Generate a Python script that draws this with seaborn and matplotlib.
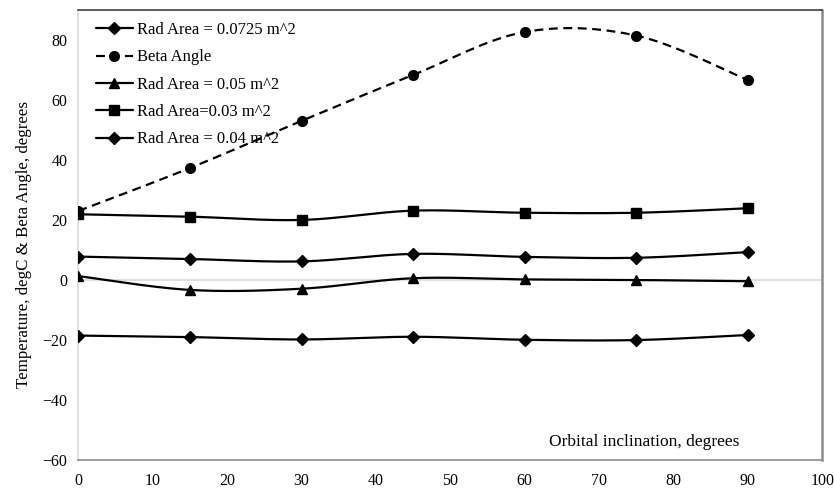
import matplotlib
matplotlib.use("Agg")
import matplotlib.pyplot as plt
from matplotlib.lines import Line2D
import numpy as np
import pandas as pd
import seaborn as sns

# Values
inclination = [0, 15, 30, 45, 60, 75, 90]
beta_angle = [23.0, 37.3, 53.0, 68.3, 82.6, 81.4, 66.6]
rad_0725 = [-18.5, -19.0, -19.8, -18.9, -19.9, -20.0, -18.3]
rad_005 = [1.3, -3.3, -2.9, 0.6, 0.2, 0.0, -0.4]
rad_003 = [21.9, 21.1, 20.0, 23.1, 22.4, 22.4, 23.9]
rad_004 = [7.8, 7.0, 6.2, 8.7, 7.7, 7.4, 9.3]

x_ticks = [0, 10, 20, 30, 40, 50, 60, 70, 80, 90, 100]
y_ticks = [-60, -40, -20, 0, 20, 40, 60, 80]


def smooth(x, y, n=30):
    # Excel-style smoothed line: cubic Bezier with Catmull-Rom control points
    x = np.asarray(x, float)
    y = np.asarray(y, float)
    px = np.concatenate([[x[0]], x, [x[-1]]])
    py = np.concatenate([[y[0]], y, [y[-1]]])
    xs, ys = [], []
    t = np.linspace(0, 1, n)
    for i in range(1, len(px) - 2):
        p0 = np.array([px[i], py[i]])
        p3 = np.array([px[i + 1], py[i + 1]])
        p1 = p0 + (np.array([px[i + 1], py[i + 1]]) - np.array([px[i - 1], py[i - 1]])) / 6
        p2 = p3 - (np.array([px[i + 2], py[i + 2]]) - np.array([px[i], py[i]])) / 6
        b = ((1 - t) ** 3)[:, None] * p0 + (3 * (1 - t) ** 2 * t)[:, None] * p1 \
            + (3 * (1 - t) * t ** 2)[:, None] * p2 + (t ** 3)[:, None] * p3
        xs.extend(b[:, 0])
        ys.extend(b[:, 1])
    return xs, ys


sns.set_theme(style="white")
plt.rcParams["font.family"] = ["Liberation Serif", "DejaVu Serif"]
plt.rcParams["text.color"] = "black"

series = [
    ("Rad Area = 0.0725 m^2", rad_0725, "D", "-", 6),
    ("Beta Angle", beta_angle, "o", "--", 7),
    ("Rad Area = 0.05 m^2", rad_005, "^", "-", 7),
    ("Rad Area=0.03 m^2", rad_003, "s", "-", 7),
    ("Rad Area = 0.04 m^2", rad_004, "D", "-", 6),
]

fig, ax = plt.subplots(figsize=(8.34, 4.88), dpi=100)
fig.subplots_adjust(left=0.094, right=0.986, top=0.98, bottom=0.057)

ax.axhline(0, color="#d9d9d9", lw=1.2, zorder=1)

handles = []
for name, vals, mk, ls, ms in series:
    sx, sy = smooth(inclination, vals)
    curve = pd.DataFrame({"x": sx, "y": sy})
    pts = pd.DataFrame({"x": inclination, "y": vals})
    sns.lineplot(data=curve, x="x", y="y", ax=ax, color="black", lw=1.6,
                 linestyle=ls, sort=False, zorder=3)
    if ls == "--":
        ax.lines[-1].set_dashes([4, 2.5])
    ax.plot(pts["x"], pts["y"], linestyle="none", marker=mk, ms=ms,
            color="black", zorder=4)
    h = Line2D([], [], color="black", lw=1.6, linestyle=ls, marker=mk, ms=ms)
    if ls == "--":
        h.set_dashes([4, 2.5])
    handles.append(h)

ax.set_xlim(0, 100)
ax.set_ylim(-60, 90)
ax.set_xticks(x_ticks)
ax.set_yticks(y_ticks)
ax.set_yticklabels([f"{v}".replace("-", "\u2212") for v in y_ticks])
ax.tick_params(axis="both", length=0, labelsize=11.5, colors="black", pad=8)
ax.tick_params(axis="x", pad=9)

ax.set_xlabel("")
ax.set_ylabel("Temperature, degC & Beta Angle, degrees", fontsize=12.2, color="black")
ax.yaxis.set_label_coords(-0.062, 0.478)
ax.text(88.8, -54, "Orbital inclination, degrees", ha="right", va="center",
        fontsize=12.5)

ax.spines["top"].set_color("#404040")
ax.spines["right"].set_color("#8c8c8c")
ax.spines["bottom"].set_color("#8c8c8c")
ax.spines["left"].set_color("#d9d9d9")
for s in ax.spines.values():
    s.set_linewidth(1.2)
ax.spines["right"].set_linewidth(1.8)

leg = ax.legend(handles, [s[0] for s in series], loc="upper left", frameon=False,
                fontsize=12, handlelength=2.2, handletextpad=0.25, labelspacing=0.68,
                borderaxespad=0.2, bbox_to_anchor=(0.01, 0.995))
for t in leg.get_texts():
    t.set_color("black")

fig.savefig("out.png", dpi=100)
